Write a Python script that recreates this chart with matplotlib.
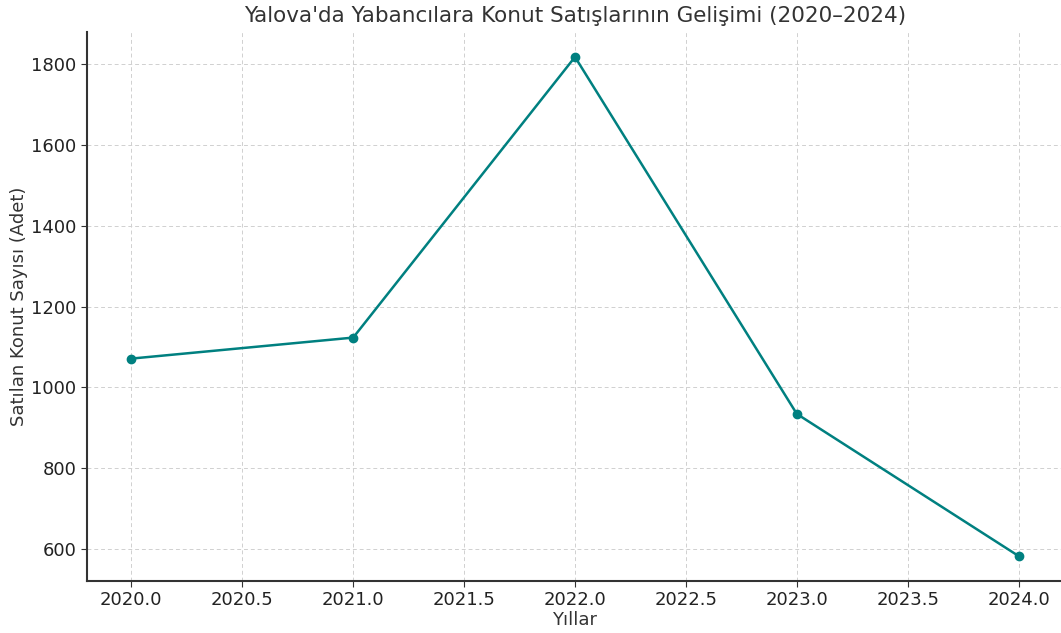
import matplotlib
matplotlib.use('Agg')
from matplotlib import pyplot as plt

years = [2020, 2021, 2022, 2023, 2024]
sales = [1071, 1123, 1818, 934, 582]

plt.rcParams['font.family'] = ['DejaVu Sans']
plt.rcParams['text.color'] = '#333333'
plt.rcParams['axes.labelcolor'] = '#333333'
plt.rcParams['xtick.color'] = '#333333'
plt.rcParams['ytick.color'] = '#333333'
plt.rcParams['xtick.labelcolor'] = '#222222'
plt.rcParams['ytick.labelcolor'] = '#222222'

fig = plt.figure(figsize=(10.61, 6.33), dpi=100)
ax = fig.add_axes([87 / 1061, 52 / 633, 976 / 1061, 549 / 633])
ax.plot(years, sales, marker='o', color='#008080', linewidth=1.8, markersize=6)

ax.set_title("Yalova'da Yabancılara Konut Satışlarının Gelişimi (2020–2024)", fontsize=15.5, pad=7)
ax.set_xlabel('Yıllar', fontsize=13, labelpad=1)
ax.set_ylabel('Satılan Konut Sayısı (Adet)', fontsize=13, labelpad=2)
ax.tick_params(labelsize=13, length=4)
ax.grid(True, linestyle=(0, (4, 3)), color='#d0d0d0', linewidth=0.7)
for s in ['top', 'right']:
    ax.spines[s].set_visible(False)
for s in ['left', 'bottom']:
    ax.spines[s].set_color('#333333')
    ax.spines[s].set_linewidth(1.5)

plt.savefig('out.png', dpi=100)
